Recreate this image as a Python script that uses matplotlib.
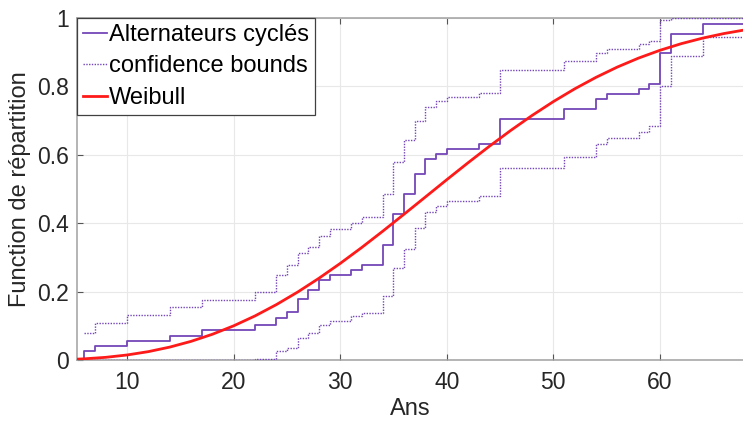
import matplotlib
matplotlib.use('Agg')
import matplotlib.pyplot as plt

# ---- data ----
years = [6, 7, 10, 14, 17, 22, 24, 25, 26, 27, 28, 29, 31, 32, 34, 35, 36, 37, 38,
         39, 40, 43, 45, 51, 54, 55, 58, 59, 60, 61, 64]
ecdf_vals = [0.026, 0.041, 0.056, 0.071, 0.087, 0.102, 0.122, 0.140, 0.178, 0.205,
             0.234, 0.248, 0.262, 0.278, 0.336, 0.427, 0.484, 0.543, 0.587, 0.602,
             0.616, 0.631, 0.704, 0.733, 0.762, 0.778, 0.792, 0.807, 0.897, 0.953, 0.982]
upper_vals = [0.080, 0.107, 0.131, 0.154, 0.176, 0.198, 0.248, 0.278, 0.312, 0.329,
              0.363, 0.383, 0.401, 0.419, 0.486, 0.580, 0.643, 0.699, 0.741, 0.756,
              0.770, 0.782, 0.848, 0.873, 0.897, 0.909, 0.923, 0.933, 0.994, 1.0, 1.0]
lower_vals = [0.0, 0.0, 0.0, 0.0, 0.0, 0.004, 0.025, 0.034, 0.065, 0.079,
              0.101, 0.114, 0.129, 0.138, 0.188, 0.270, 0.326, 0.387, 0.433, 0.449,
              0.464, 0.479, 0.562, 0.594, 0.633, 0.649, 0.668, 0.684, 0.801, 0.890, 0.944]

weibull_x = [5.3, 6, 8, 10, 12, 14, 16, 18, 20, 22, 24, 26, 28, 30, 32, 34, 36, 38, 40,
             42, 44, 46, 48, 50, 52, 54, 56, 58, 60, 62, 64, 66, 68]
weibull_F = [0.0025, 0.0035, 0.0078, 0.0147, 0.0245, 0.0377, 0.0545, 0.0752, 0.0999,
             0.1288, 0.1618, 0.1985, 0.2389, 0.2824, 0.3285, 0.3768, 0.4265, 0.4768,
             0.5272, 0.5768, 0.6250, 0.6712, 0.7149, 0.7555, 0.7927, 0.8264, 0.8565,
             0.8828, 0.9055, 0.9249, 0.9411, 0.9545, 0.9653]

x_ticks = [10, 20, 30, 40, 50, 60]
y_ticks = [0, 0.2, 0.4, 0.6, 0.8, 1]
y_ticklabels = ['0', '0.2', '0.4', '0.6', '0.8', '1']
labels = ['Alternateurs cyclés', 'confidence bounds', 'Weibull']
x_label = 'Ans'
y_label = 'Function de répartition'

X_MIN, X_MAX = 5.3, 67.8

plt.rcParams['font.family'] = ['Liberation Sans', 'DejaVu Sans']

fig = plt.figure(figsize=(7.43, 4.25), dpi=100)
ax = fig.add_axes([77 / 743, 65 / 425, 666 / 743, 342 / 425])

purple = '#7446b8'
ax.step([X_MIN] + years + [X_MAX], [0] + ecdf_vals + [ecdf_vals[-1]], where='post',
        color=purple, lw=1.3, label=labels[0], zorder=3)
ax.step(years + [X_MAX], upper_vals + [upper_vals[-1]], where='post',
        color=purple, lw=1.0, ls=(0, (1, 1.0)), label=labels[1], zorder=3)
ax.step([X_MIN] + years + [X_MAX], [0] + lower_vals + [lower_vals[-1]], where='post',
        color=purple, lw=1.0, ls=(0, (1, 1.0)), zorder=3)
ax.plot(weibull_x, weibull_F, color='#ff1a1a', lw=2.0, label=labels[2], zorder=4)

ax.set_xlim(X_MIN, X_MAX)
ax.set_ylim(0, 1)
ax.set_xticks(x_ticks)
ax.set_yticks(y_ticks)
ax.set_yticklabels(y_ticklabels)
ax.grid(True, color='#e8e8e8', lw=0.8)
ax.set_axisbelow(True)

for side in ['left', 'bottom', 'top']:
    ax.spines[side].set_color('#a0a0a0')
    ax.spines[side].set_linewidth(1.1)
ax.spines['right'].set_visible(False)

ax.tick_params(axis='x', direction='in', top=True, length=4, color='#555555',
               labelsize=16.5, pad=8, labelcolor='#262626')
ax.tick_params(axis='y', direction='in', length=4, color='#555555',
               labelsize=16.5, pad=6, labelcolor='#262626')

ax.set_xlabel(x_label, fontsize=17, labelpad=3, color='#262626')
ax.set_ylabel(y_label, fontsize=17, labelpad=4, color='#262626')

leg = ax.legend(loc='upper left', bbox_to_anchor=(0, 1), borderaxespad=0,
                fontsize=17, handlelength=1.0, handletextpad=0.12,
                borderpad=0.25, labelspacing=0.4, fancybox=False, framealpha=1)
leg.get_frame().set_edgecolor('#404040')
leg.get_frame().set_linewidth(0.9)

fig.savefig('out.png', dpi=100)
